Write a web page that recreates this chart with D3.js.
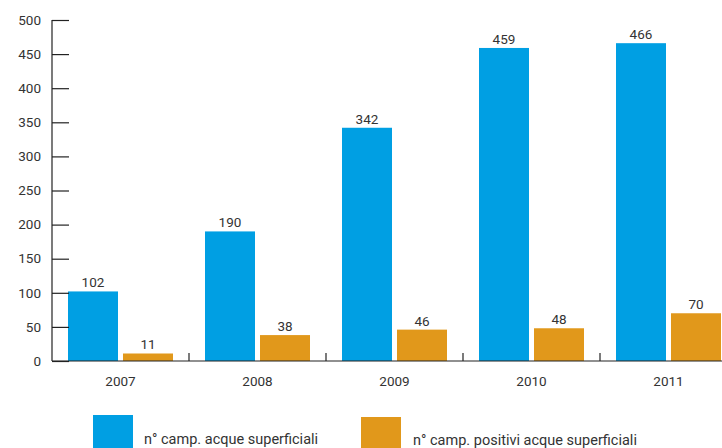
<!DOCTYPE html>
<html>
<head>
<meta charset="utf-8">
<script src="https://cdn.jsdelivr.net/npm/d3@7"></script>
<style>
  html, body { margin: 0; padding: 0; background: #fff; }
  svg { display: block; font-family: Roboto, "DejaVu Sans", sans-serif; }
</style>
</head>
<body>
<svg id="chart" width="722" height="448"></svg>
<script>
// Campioni di acque superficiali per anno
const years = ["2007", "2008", "2009", "2010", "2011"];
const seriesNames = ["n° camp. acque superficiali", "n° camp. positivi acque superficiali"];
const campioni = [102, 190, 342, 459, 466];
const positivi = [11, 38, 46, 48, 70];
const yTicks = [0, 50, 100, 150, 200, 250, 300, 350, 400, 450, 500];
const colors = ["#009fe3", "#e1981b"];

const rows = years.map((y, i) => ({ year: y, values: [campioni[i], positivi[i]] }));

const svg = d3.select("#chart");
const textColor = "#333";
const numSize = 13.5;

const x0 = d3.scaleBand().domain(years).range([52, 737]).paddingInner(0).paddingOuter(0);
const x1 = d3.scaleBand().domain([0, 1]).range([16, x0.bandwidth() - 16]).paddingInner(5 / 55).paddingOuter(0);
const y = d3.scaleLinear().domain([0, 500]).range([361, 20]);

// bars
const groups = svg.append("g").selectAll("g").data(rows).join("g")
  .attr("transform", d => `translate(${x0(d.year)},0)`);

groups.selectAll("rect").data(d => d.values.map((v, k) => ({ k, v }))).join("rect")
  .attr("x", d => x1(d.k))
  .attr("y", d => y(d.v))
  .attr("width", x1.bandwidth())
  .attr("height", d => y(0) - y(d.v))
  .attr("fill", d => colors[d.k]);

groups.selectAll("text").data(d => d.values.map((v, k) => ({ k, v }))).join("text")
  .attr("x", d => x1(d.k) + x1.bandwidth() / 2)
  .attr("y", d => y(d.v) - 4)
  .attr("text-anchor", "middle")
  .attr("font-size", numSize)
  .attr("fill", textColor)
  .text(d => d.v);

// y axis
const yAxis = d3.axisRight(y).tickValues(yTicks).tickSize(17).tickFormat(d3.format("d"));
const gy = svg.append("g").attr("transform", "translate(52,0)").call(yAxis);
gy.select(".domain").remove();
gy.selectAll(".tick line").attr("stroke", "#222").attr("stroke-width", 1.2);
gy.selectAll(".tick text").remove();
gy.append("line").attr("x1", 0).attr("x2", 0).attr("y1", y(500)).attr("y2", y(0))
  .attr("stroke", "#222").attr("stroke-width", 1.2);

svg.append("g").selectAll("text").data(yTicks).join("text")
  .attr("x", 41)
  .attr("y", d => y(d))
  .attr("dy", "0.35em")
  .attr("text-anchor", "end")
  .attr("font-size", numSize)
  .attr("fill", textColor)
  .text(d => d);

// x axis
svg.append("line").attr("x1", 52).attr("x2", 722).attr("y1", y(0)).attr("y2", y(0))
  .attr("stroke", "#222").attr("stroke-width", 1.2);
svg.append("g").selectAll("line").data(years.slice(1)).join("line")
  .attr("x1", d => x0(d)).attr("x2", d => x0(d))
  .attr("y1", y(0)).attr("y2", y(0) - 8)
  .attr("stroke", "#222").attr("stroke-width", 1.2);

svg.append("g").selectAll("text").data(years).join("text")
  .attr("x", d => x0(d) + x0.bandwidth() / 2)
  .attr("y", 386)
  .attr("text-anchor", "middle")
  .attr("font-size", numSize)
  .attr("fill", textColor)
  .text(d => d);

// legend
const legend = [
  { name: seriesNames[0], color: colors[0], rx: 93, ry: 415, tx: 144, ty: 444 },
  { name: seriesNames[1], color: colors[1], rx: 361, ry: 417, tx: 413, ty: 445 }
];
const lg = svg.append("g").selectAll("g").data(legend).join("g");
lg.append("rect")
  .attr("x", d => d.rx).attr("y", d => d.ry)
  .attr("width", 40).attr("height", d => 450 - d.ry)
  .attr("fill", d => d.color);
lg.append("text")
  .attr("x", d => d.tx).attr("y", d => d.ty)
  .attr("font-size", 14.5)
  .attr("fill", textColor)
  .text(d => d.name);
</script>
</body>
</html>
